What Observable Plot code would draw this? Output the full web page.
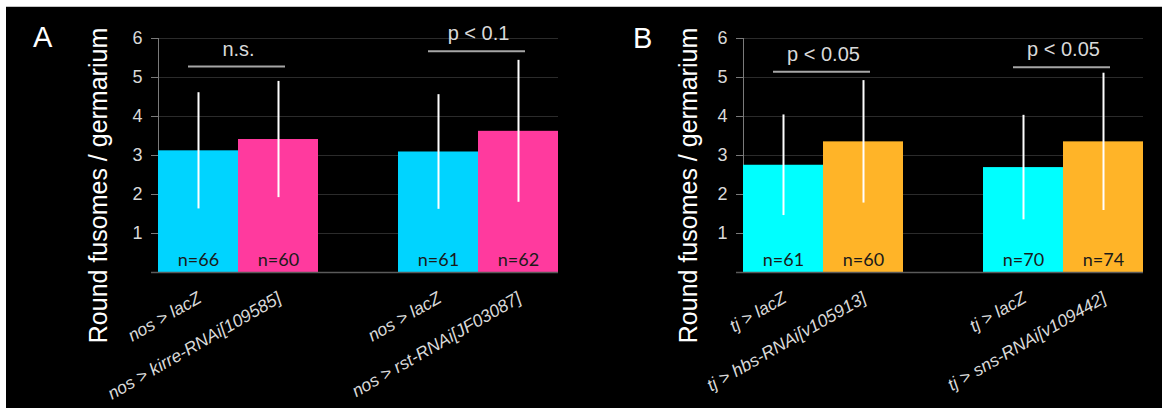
<!DOCTYPE html>
<html><head><meta charset="utf-8">
<script src="https://cdn.jsdelivr.net/npm/d3@7"></script>
<script src="https://cdn.jsdelivr.net/npm/@observablehq/plot@0.6"></script>
<style>
html,body{margin:0;padding:0;background:#fff;width:1162px;height:408px;overflow:hidden;}
#stage{position:absolute;left:6px;top:6px;width:1156px;height:401px;background:#000;border-top:1px solid #c4c4c4;}
.panel{position:absolute;top:0;height:401px;}
.panel svg{position:absolute;left:0;top:0;}
.tag{position:absolute;color:#fff;font:29px/29px "Liberation Sans",Arial,sans-serif;}
</style></head><body>
<div id="stage">
  <div class="panel" id="pA" style="left:0;width:579px"></div>
  <div class="panel" id="pB" style="left:579px;width:577px"></div>
  <div class="tag" style="left:27px;top:16px">A</div>
  <div class="tag" style="left:627px;top:17px">B</div>
</div>
<script>
const yTicks = [1, 2, 3, 4, 5, 6];
const yTitle = "Round fusomes / germarium";
const roles = ["control", "RNAi", "control", "RNAi"];

// Panel A
const groupsA = ["kirre", "rst"];
const barGroupsA = ["kirre", "kirre", "rst", "rst"];
const genotypesA = ["nos > lacZ", "nos > kirre-RNAi[109585]", "nos > lacZ", "nos > rst-RNAi[JF03087]"];
const meansA = [3.12, 3.41, 3.09, 3.62];
const sdA = [1.49, 1.49, 1.47, 1.82];
const nA = [66, 60, 61, 62];
const sigLabelsA = ["n.s.", "p < 0.1"];
const sigLevelsA = [5.28, 5.67];

// Panel B
const groupsB = ["hbs", "sns"];
const barGroupsB = ["hbs", "hbs", "sns", "sns"];
const genotypesB = ["tj > lacZ", "tj > hbs-RNAi[v105913]", "tj > lacZ", "tj > sns-RNAi[v109442]"];
const meansB = [2.75, 3.35, 2.69, 3.35];
const sdB = [1.29, 1.57, 1.34, 1.76];
const nB = [61, 60, 70, 74];
const sigLabelsB = ["p < 0.05", "p < 0.05"];
const sigLevelsB = [5.15, 5.26];

const font = "'Liberation Sans', Arial, sans-serif";

function panel(el, {groups, barGroups, genotypes, means, sds, ns, sigLabels, sigLevels, colors, width, marginLeft, marginRight, titleDx}) {
  const bars = genotypes.map((g, i) => ({genotype: g, group: barGroups[i], role: roles[i], mean: means[i], sd: sds[i], n: ns[i]}));
  const sig = sigLabels.map((s, i) => ({label: s, group: groups[i], level: sigLevels[i]}));
  const common = {
    width, height: 401, marginTop: 31, marginBottom: 136, marginLeft, marginRight,
    style: {background: "transparent", fontFamily: font, overflow: "visible", color: "#d9d9d9"},
    y: {domain: [0, 6], axis: null}
  };
  // background layer: grid, axes, title (spans both groups)
  const bg = Plot.plot({
    ...common,
    marks: [
      Plot.ruleY(yTicks, {stroke: "#2b2b2b", strokeWidth: 1}),
      Plot.frame({anchor: "left", stroke: "#7a7a7a"}),
      Plot.axisY(yTicks, {tickSize: 7, tickPadding: 9, fontSize: 18, stroke: "#7a7a7a", fill: "#d9d9d9", label: null}),
      Plot.text([yTitle], {text: d => d, frameAnchor: "left", textAnchor: "middle", rotate: -90, dx: titleDx, dy: 30, fill: "#fff", fontSize: 25})
    ]
  });
  // foreground layer: faceted bars
  const fg = Plot.plot({
    ...common,
    fx: {domain: groups, paddingInner: 1/3, paddingOuter: 0, axis: null},
    x: {domain: ["control", "RNAi"], padding: 0, axis: null},
    color: {domain: ["control", "RNAi"], range: colors},
    marks: [
      Plot.barY(bars, {fx: "group", x: "role", y: "mean", fill: "role"}),
      Plot.ruleX(bars, {fx: "group", x: "role", y1: d => d.mean - d.sd, y2: d => d.mean + d.sd, stroke: "#fff", strokeWidth: 2}),
      Plot.text(bars, {fx: "group", x: "role", text: d => "n=" + d.n, frameAnchor: "bottom", lineAnchor: "bottom", dy: -7, fill: "#1a1a1a", fontSize: 18, fontFamily: "Lato, 'Open Sans', sans-serif"}),
      Plot.text(bars, {fx: "group", x: "role", text: "genotype", frameAnchor: "bottom", rotate: -30, textAnchor: "end", lineAnchor: "bottom", dx: 4, dy: 29, fill: "#d9d9d9", fontSize: 17.5, fontStyle: "italic"}),
      Plot.ruleY(sig, {fx: "group", x1: () => "control", x2: () => "RNAi", y: "level", insetLeft: 30, insetRight: 33, stroke: "#a6a6a6", strokeWidth: 2}),
      Plot.text(sig, {fx: "group", y: "level", text: "label", lineAnchor: "bottom", dy: -11, fill: "#d9d9d9", fontSize: 20})
    ]
  });
  const base = Plot.plot({
    ...common,
    marks: [Plot.ruleY([0], {stroke: "#5a5a5a", strokeWidth: 1.5, insetLeft: -7})]
  });
  el.appendChild(bg);
  el.appendChild(fg);
  el.appendChild(base);
}

panel(document.getElementById("pA"), {
  groups: groupsA, barGroups: barGroupsA, genotypes: genotypesA, means: meansA, sds: sdA, ns: nA,
  sigLabels: sigLabelsA, sigLevels: sigLevelsA, colors: ["#00d4ff", "#ff3a9e"],
  width: 579, marginLeft: 152, marginRight: 27, titleDx: -60
});
panel(document.getElementById("pB"), {
  groups: groupsB, barGroups: barGroupsB, genotypes: genotypesB, means: meansB, sds: sdB, ns: nB,
  sigLabels: sigLabelsB, sigLevels: sigLevelsB, colors: ["#00ffff", "#ffb428"],
  width: 577, marginLeft: 158, marginRight: 19, titleDx: -55
});
</script>
</body></html>
